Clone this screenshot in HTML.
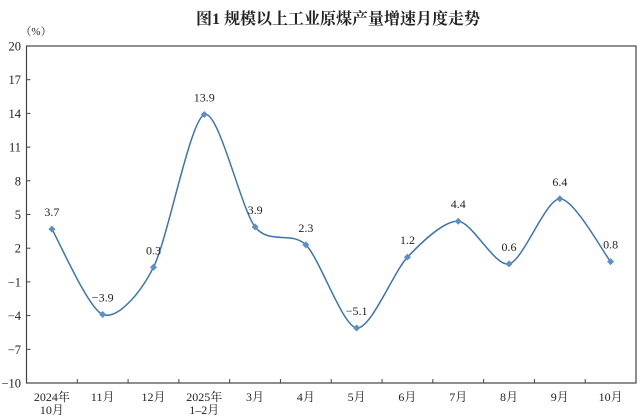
<!DOCTYPE html>
<html><head><meta charset="utf-8"><style>
html,body{margin:0;padding:0;background:#fff;}
svg{display:block;font-family:"Liberation Serif","Noto Serif CJK SC",serif;}
</style></head><body>
<svg id="c" width="640" height="419" viewBox="0 0 640 419">
<text x="338" y="24" font-size="16" font-weight="bold" text-anchor="middle" fill="#222" font-family="'Liberation Serif','Noto Serif CJK SC',serif">图1 规模以上工业原煤产量增速月度走势</text>
<text x="36" y="35" font-size="11" text-anchor="middle" fill="#222">（%）</text>
<rect x="26.5" y="46" width="609.5" height="337" fill="none" stroke="#444" stroke-width="1.2"/>
<g id="g"></g>
</svg>
<script>
var g=document.getElementById('g'),ns='http://www.w3.org/2000/svg';
function el(t,a,txt){var e=document.createElementNS(ns,t);for(var k in a)e.setAttribute(k,a[k]);if(txt!=null)e.textContent=txt;g.appendChild(e);return e;}
var L=26.5,T=46,B=383,W=609.5,cw=W/12;
function Y(v){return T+(20-v)*(B-T)/30;}
for(var v=20;v>=-10;v-=3){var y=Y(v);el('line',{x1:L,x2:L+4,y1:y,y2:y,stroke:'#444'});
el('text',{x:21,y:y+4.5,'font-size':12.5,'text-anchor':'end',fill:'#222'},v<0?'−'+(-v):v);}
for(var i=1;i<12;i++){var x=L+i*cw;el('line',{x1:x,x2:x,y1:B,y2:B-4,stroke:'#444'});}
var lab=[['2024年','10月'],['11月'],['12月'],['2025年','1–2月'],['3月'],['4月'],['5月'],['6月'],['7月'],['8月'],['9月'],['10月']];
var d=[3.7,-3.9,0.3,13.9,3.9,2.3,-5.1,1.2,4.4,0.6,6.4,0.8];
var dl=['3.7','−3.9','0.3','13.9','3.9','2.3','−5.1','1.2','4.4','0.6','6.4','0.8'];
var P=[];
for(var i=0;i<12;i++){var x=L+cw*(i+0.5);P.push([x,Y(d[i])]);
lab[i].forEach(function(s,j){el('text',{x:x,y:401+j*13,'font-size':12,'text-anchor':'middle',fill:'#222'},s);});}
var p='M'+P[0][0]+','+P[0][1],k=0.14;
for(var i=0;i<11;i++){var p0=P[Math.max(i-1,0)],p1=P[i],p2=P[i+1],p3=P[Math.min(i+2,11)];
var c1=[p1[0]+(p2[0]-p0[0])*k,p1[1]+(p2[1]-p0[1])*k],c2=[p2[0]-(p3[0]-p1[0])*k,p2[1]-(p3[1]-p1[1])*k];
p+=' C'+c1+' '+c2+' '+p2;}
el('path',{d:p,fill:'none',stroke:'#3d74ad','stroke-width':1.5});
for(var i=0;i<12;i++){var x=P[i][0],y=P[i][1];
el('path',{d:'M'+x+','+(y-3.5)+' l3.5,3.5 l-3.5,3.5 l-3.5,-3.5z',fill:'#5b8fc9'});
el('text',{x:x,y:y-13,'font-size':12,'text-anchor':'middle',fill:'#222'},dl[i]);}
</script>
</body></html>
